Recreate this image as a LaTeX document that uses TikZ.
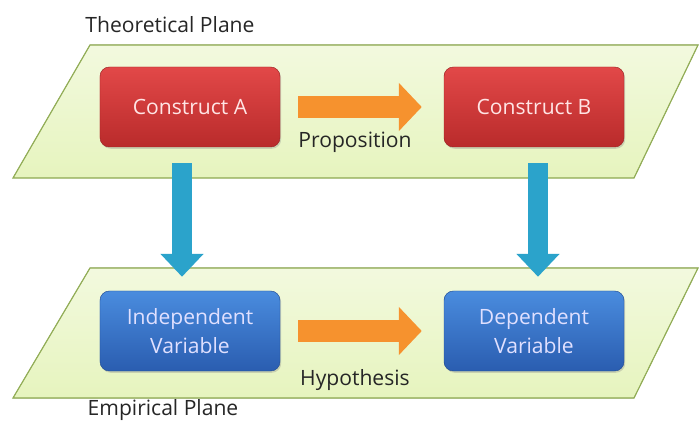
\documentclass[tikz,border=0pt]{standalone}
\usepackage{fontspec}
\setmainfont{Open Sans}
\usetikzlibrary{arrows.meta, shadows}

\definecolor{planefill}{HTML}{E6F4BE}
\definecolor{planeline}{HTML}{93AE58}
\definecolor{redtop}{HTML}{E24848}
\definecolor{redbot}{HTML}{B92B2B}
\definecolor{bluetop}{HTML}{4A8CDE}
\definecolor{bluebot}{HTML}{2A5DB0}
\definecolor{orangearrow}{HTML}{F6922E}
\definecolor{bluearrow}{HTML}{2BA3CB}

\begin{document}
\begin{tikzpicture}[x=0.03cm, y=-0.03cm,
    plane/.style={draw=planeline, line width=1pt, top color=planefill!50!white, bottom color=planefill},
    box/.style={rounded corners=8pt, minimum width=5.4cm, minimum height=2.4cm, align=center,
        font=\fontsize{18}{25}\selectfont, drop shadow={opacity=0.3, shadow xshift=1pt, shadow yshift=-1.5pt}},
    conbox/.style={box, draw=redbot!85!black, top color=redtop, bottom color=redbot, text=white!90!red},
    varbox/.style={box, draw=bluebot!85!black, top color=bluetop, bottom color=bluebot, text=white!88!blue},
    link/.style={line width=0.66cm, orangearrow, -{Triangle[length=0.69cm, width=1.41cm]},
        shorten <=0.54cm, shorten >=0.66cm},
    measure/.style={line width=0.62cm, bluearrow, -{Triangle[length=0.69cm, width=1.26cm]},
        shorten <=0.48cm, shorten >=0.42cm},
    tag/.style={font=\fontsize{18}{22}\selectfont, text=black!85}]
    \useasboundingbox (0,0) rectangle (699,429);

    % the two planes
    \fill[plane] (90,45) -- (698,45) -- (634,178) -- (13,178) -- cycle;
    \fill[plane] (90,268) -- (698,268) -- (634,398) -- (13,398) -- cycle;
    \draw[planeline] (90,45) -- (698,45) -- (634,178) -- (13,178) -- cycle;
    \draw[planeline] (90,268) -- (698,268) -- (634,398) -- (13,398) -- cycle;

    \node[tag] (theo) at (170,25) {Theoretical Plane};
    \node[tag] (emp)  at (163,410) {Empirical Plane};

    \node[conbox] (ca) at (190,107) {Construct A};
    \node[conbox] (cb) at (534,107) {Construct B};
    \node[varbox] (iv) at (190,331) {Independent\\Variable};
    \node[varbox] (dv) at (534,331) {Dependent\\Variable};

    \node[tag] (prop) at (355,142) {Proposition};
    \node[tag] (hyp)  at (355,380) {Hypothesis};

    % Now draw the arrows:
    \draw[link] (ca.east) -- (cb.west);
    \draw[link] (iv.east) -- (dv.west);
    \draw[measure] ([xshift=-0.24cm]ca.south) -- ([xshift=-0.24cm]iv.north);
    \draw[measure] ([xshift=0.12cm]cb.south) -- ([xshift=0.12cm]dv.north);
\end{tikzpicture}
\end{document}
